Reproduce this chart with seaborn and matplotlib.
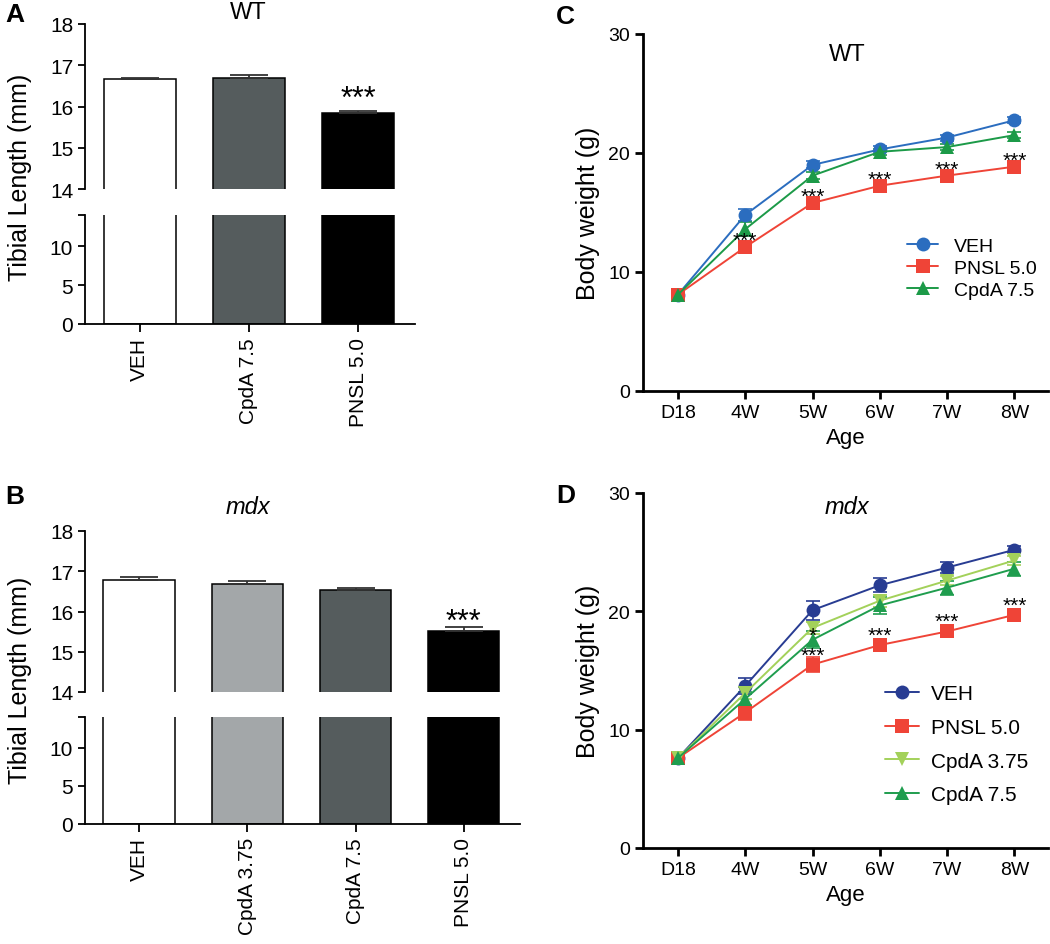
"""Tibial length bars (broken axis) and body-weight growth curves, WT vs mdx."""

import matplotlib

matplotlib.use("Agg")
import matplotlib.pyplot as plt
import numpy as np
import pandas as pd
import seaborn as sns

# ---- data -----------------------------------------------------------------
wt_groups = ["VEH", "CpdA 7.5", "PNSL 5.0"]
wt_tibia = [16.67, 16.70, 15.85]
wt_tibia_sem = [0.02, 0.06, 0.05]

mdx_groups = ["VEH", "CpdA 3.75", "CpdA 7.5", "PNSL 5.0"]
mdx_tibia = [16.78, 16.68, 16.53, 15.52]
mdx_tibia_sem = [0.08, 0.08, 0.06, 0.10]

ages = ["D18", "4W", "5W", "6W", "7W", "8W"]

wt_veh = [8.1, 14.8, 19.0, 20.3, 21.3, 22.75]
wt_veh_sem = [0.2, 0.5, 0.3, 0.25, 0.25, 0.25]
wt_pnsl = [8.1, 12.1, 15.8, 17.25, 18.1, 18.85]
wt_pnsl_sem = [0.2, 0.3, 0.25, 0.25, 0.2, 0.2]
wt_cpda75 = [8.1, 13.6, 18.1, 20.1, 20.5, 21.5]
wt_cpda75_sem = [0.2, 0.6, 0.3, 0.25, 0.25, 0.25]

mdx_veh = [7.6, 13.7, 20.1, 22.2, 23.7, 25.2]
mdx_veh_sem = [0.3, 0.7, 0.8, 0.6, 0.5, 0.3]
mdx_pnsl = [7.6, 11.45, 15.5, 17.15, 18.3, 19.7]
mdx_pnsl_sem = [0.3, 0.6, 0.6, 0.5, 0.45, 0.4]
mdx_cpda375 = [7.6, 13.1, 18.6, 20.9, 22.6, 24.3]
mdx_cpda375_sem = [0.3, 0.5, 0.5, 0.5, 0.4, 0.4]
mdx_cpda75 = [7.6, 12.6, 17.6, 20.5, 22.0, 23.6]
mdx_cpda75_sem = [0.3, 0.6, 0.7, 0.7, 0.6, 0.6]

# ages where PNSL differs from VEH (***)
wt_stars = ["4W", "5W", "6W", "7W", "8W"]
mdx_stars = ["5W", "6W", "7W", "8W"]

# ---- style ----------------------------------------------------------------
sns.set_theme(style="ticks")
plt.rcParams["font.family"] = ["Liberation Sans", "DejaVu Sans"]
plt.rcParams.update({
    "axes.linewidth": 1.3,
    "xtick.major.width": 1.3,
    "ytick.major.width": 1.3,
    "xtick.major.size": 5,
    "ytick.major.size": 5,
    "xtick.color": "black",
    "ytick.color": "black",
    "axes.edgecolor": "black",
    "text.color": "black",
    "axes.labelcolor": "black",
})

bar_colors = {
    "VEH": "white",
    "CpdA 3.75": "#a2a7aa",
    "CpdA 7.5": "#545d5e",
    "PNSL 5.0": "black",
}

fig = plt.figure(figsize=(10.5, 9.45), dpi=100)
W, H = 1050, 945


def box(x0, x1, ytop, ybot):
    return [x0 / W, 1 - ybot / H, (x1 - x0) / W, (ybot - ytop) / H]


def broken_bars(groups, means, sems, top_box, low_box, star_off):
    df = pd.DataFrame({"group": groups, "length": means})
    pal = {g: bar_colors[g] for g in groups}
    ax_hi = fig.add_axes(top_box)
    ax_lo = fig.add_axes(low_box)
    for ax in (ax_hi, ax_lo):
        sns.barplot(data=df, x="group", y="length", hue="group", palette=pal,
                    edgecolor="black", linewidth=1.1, width=0.66, errorbar=None,
                    legend=False, ax=ax)
        ax.set_xlim(-0.5, len(groups) - 0.48)
        ax.set_ylabel("")
        ax.set_xlabel("")
        sns.despine(ax=ax)
    pos = np.arange(len(groups))
    ax_hi.errorbar(pos, means, yerr=[np.zeros(len(sems)), sems], fmt="none",
                   ecolor="#333333", elinewidth=1.3, capsize=14, capthick=1.3)
    ax_hi.set_ylim(14, 18)
    ax_hi.set_yticks([14, 15, 16, 17, 18])
    ax_hi.spines["bottom"].set_visible(False)
    ax_hi.tick_params(axis="x", bottom=False, labelbottom=False)
    ax_hi.tick_params(axis="y", labelsize=15)
    ax_hi.text(len(groups) - 1, means[-1] + star_off, "***",
               ha="center", va="baseline", fontsize=22)

    ax_lo.set_ylim(0, 14)
    ax_lo.set_yticks([0, 5, 10, 14])
    ax_lo.set_yticklabels(["0", "5", "10", ""])
    ax_lo.tick_params(axis="y", labelsize=15)
    ax_lo.tick_params(axis="x", labelsize=15, rotation=90, length=6)
    return ax_hi, ax_lo


def growth(series, colors, markers, top_box, title, title_y, italic, stars, star_off):
    rows = []
    for name, (vals, _) in series.items():
        for i, v in enumerate(vals):
            rows.append({"pos": i, "weight": v, "group": name})
    df = pd.DataFrame(rows)
    ax = fig.add_axes(top_box)
    pos = np.arange(len(ages))
    for name, (vals, sems) in series.items():
        ax.errorbar(pos, vals, yerr=sems, fmt="none", ecolor=colors[name],
                    elinewidth=1.2, capsize=5, capthick=1.2, zorder=2)
    sns.lineplot(data=df, x="pos", y="weight", hue="group", style="group",
                 palette=colors, markers=markers, dashes=False, markersize=10,
                 markeredgewidth=0, linewidth=1.4, ax=ax, zorder=3)
    pnsl_vals = series["PNSL 5.0"][0]
    for age in stars:
        i = ages.index(age)
        ax.text(i, pnsl_vals[i] + star_off, "***", ha="center", va="baseline",
                fontsize=15)
    ax.set_xlim(-0.52, 5.5)
    ax.set_ylim(0, 30)
    ax.set_yticks([0, 10, 20, 30])
    ax.set_xticks(pos)
    ax.set_xticklabels(ages)
    ax.tick_params(labelsize=14, width=2, length=6)
    for s in ("left", "bottom"):
        ax.spines[s].set_linewidth(2)
    sns.despine(ax=ax)
    ax.set_xlabel("Age", fontsize=16, labelpad=4)
    ax.set_ylabel("Body weight (g)", fontsize=18, labelpad=6)
    ax.text(0.504, title_y, title, transform=ax.transAxes,
            ha="center", va="center", fontsize=17,
            style="italic" if italic else "normal")
    handles, labels = ax.get_legend_handles_labels()
    return ax, handles, labels


# ---- A --------------------------------------------------------------------
a_hi, a_lo = broken_bars(wt_groups, wt_tibia, wt_tibia_sem,
                         box(85, 415, 25, 190), box(85, 415, 216, 325), 0.14)
fig.text(248 / W, 1 - 13 / H, "WT", ha="center", va="center", fontsize=17)
fig.text(20 / W, 1 - 177 / H, "Tibial Length (mm)", rotation=90, ha="center",
         va="center", fontsize=18)

# ---- B --------------------------------------------------------------------
b_hi, b_lo = broken_bars(mdx_groups, mdx_tibia, mdx_tibia_sem,
                         box(85, 520, 532, 693), box(85, 520, 718, 825), 0.02)
fig.text(248 / W, 1 - 507 / H, "mdx", ha="center", va="center", fontsize=17,
         style="italic")
fig.text(20 / W, 1 - 680 / H, "Tibial Length (mm)", rotation=90, ha="center",
         va="center", fontsize=18)

# ---- C --------------------------------------------------------------------
c_series = {
    "VEH": (wt_veh, wt_veh_sem),
    "PNSL 5.0": (wt_pnsl, wt_pnsl_sem),
    "CpdA 7.5": (wt_cpda75, wt_cpda75_sem),
}
c_colors = {"VEH": "#2b6dbf", "PNSL 5.0": "#ef4437", "CpdA 7.5": "#1c9a48"}
c_markers = {"VEH": "o", "PNSL 5.0": "s", "CpdA 7.5": "^"}
ax_c, h, l = growth(c_series, c_colors, c_markers, box(643, 1048, 35, 392),
                    "WT", 0.945, False, wt_stars, 0.1)
ax_c.legend(h, l, loc="upper left", bbox_to_anchor=(0.652, 0.431), frameon=False,
            fontsize=14, handlelength=1.6, handletextpad=0.8, labelspacing=0.22,
            borderaxespad=0, borderpad=0)

# ---- D --------------------------------------------------------------------
d_series = {
    "VEH": (mdx_veh, mdx_veh_sem),
    "PNSL 5.0": (mdx_pnsl, mdx_pnsl_sem),
    "CpdA 3.75": (mdx_cpda375, mdx_cpda375_sem),
    "CpdA 7.5": (mdx_cpda75, mdx_cpda75_sem),
}
d_colors = {"VEH": "#283c92", "PNSL 5.0": "#ef4437", "CpdA 3.75": "#a3d15a",
            "CpdA 7.5": "#1f9d4e"}
d_markers = {"VEH": "o", "PNSL 5.0": "s", "CpdA 3.75": "v", "CpdA 7.5": "^"}
ax_d, h, l = growth(d_series, d_colors, d_markers, box(643, 1048, 494, 849),
                    "mdx", 0.963, True, mdx_stars, 0.35)
ax_d.text(ages.index("5W"), mdx_cpda75[2] - 0.1, "*", ha="center", va="baseline",
          fontsize=15)
ax_d.legend(h, l, loc="upper left", bbox_to_anchor=(0.598, 0.461), frameon=False,
            fontsize=15, handlelength=1.6, handletextpad=0.6, labelspacing=0.7,
            borderaxespad=0, borderpad=0)

# ---- panel letters ----------------------------------------------------------
for x, y, s in [(5, 3, "A"), (5, 485, "B"), (556, 5, "C"), (556, 484, "D")]:
    fig.text(x / W, 1 - y / H, s, fontsize=19, fontweight="bold", va="top")

fig.savefig("out.png", dpi=100)
